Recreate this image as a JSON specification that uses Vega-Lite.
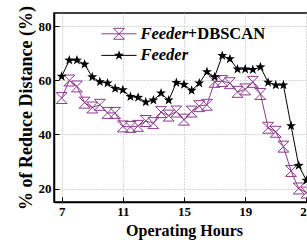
{
  "$schema": "https://vega.github.io/schema/vega-lite/v6.json",
  "autosize": "none",
  "padding": {"left": 54, "top": 13, "right": 0, "bottom": 40},
  "width": 260,
  "height": 189,
  "config": {
    "font": "Liberation Serif",
    "view": {"stroke": "black", "strokeWidth": 1.5},
    "axis": {
      "labelFont": "Liberation Serif", "labelFontWeight": "bold", "labelFontSize": 13, "labelColor": "black",
      "titleFont": "Liberation Serif", "titleFontWeight": "bold", "titleColor": "black",
      "domainColor": "black", "domainWidth": 1.5, "tickColor": "black", "tickWidth": 1,
      "gridColor": "#b0b0b0", "gridDash": [1, 2], "gridWidth": 1,
      "labelOverlap": false
    }
  },
  "datasets": {
    "main": [
      {"hour": 7, "feeder": 61.5, "dbscan": 53.5},
      {"hour": 7.5, "feeder": 67.5, "dbscan": 60},
      {"hour": 8, "feeder": 67.5, "dbscan": 57.8},
      {"hour": 8.5, "feeder": 66, "dbscan": 51.8},
      {"hour": 9, "feeder": 61.3, "dbscan": 50},
      {"hour": 9.5, "feeder": 59.5, "dbscan": 51},
      {"hour": 10, "feeder": 59, "dbscan": 48},
      {"hour": 10.5, "feeder": 57, "dbscan": 48},
      {"hour": 11, "feeder": 56.5, "dbscan": 43},
      {"hour": 11.5, "feeder": 54, "dbscan": 42.8},
      {"hour": 12, "feeder": 53.7, "dbscan": 43.2},
      {"hour": 12.5, "feeder": 52, "dbscan": 45},
      {"hour": 13, "feeder": 52.7, "dbscan": 44.2},
      {"hour": 13.5, "feeder": 55.3, "dbscan": 48.3},
      {"hour": 14, "feeder": 52.7, "dbscan": 47},
      {"hour": 14.5, "feeder": 59.2, "dbscan": 48.5},
      {"hour": 15, "feeder": 58.5, "dbscan": 45.5},
      {"hour": 15.5, "feeder": 56.3, "dbscan": 48.5},
      {"hour": 16, "feeder": 59, "dbscan": 50.5},
      {"hour": 16.5, "feeder": 63.2, "dbscan": 51},
      {"hour": 17, "feeder": 61.3, "dbscan": 59.5},
      {"hour": 17.5, "feeder": 69.2, "dbscan": 59.8},
      {"hour": 18, "feeder": 68, "dbscan": 59},
      {"hour": 18.5, "feeder": 64.2, "dbscan": 55.8},
      {"hour": 19, "feeder": 64.2, "dbscan": 56.7},
      {"hour": 19.5, "feeder": 64, "dbscan": 59.5},
      {"hour": 20, "feeder": 65, "dbscan": 55},
      {"hour": 20.5, "feeder": 59.3, "dbscan": 42.5},
      {"hour": 21, "feeder": 58.3, "dbscan": 41},
      {"hour": 21.5, "feeder": 58.3, "dbscan": 35.5},
      {"hour": 22, "feeder": 43.2, "dbscan": 26.5},
      {"hour": 22.5, "feeder": 28.5, "dbscan": 20},
      {"hour": 23, "feeder": 23, "dbscan": 18.5}
    ],
    "legend": [
      {"series": "dbscan", "label": "Feeder", "suffix": "+DBSCAN"},
      {"series": "feeder", "label": "Feeder", "suffix": ""}
    ]
  },
  "layer": [
    {
      "data": {"name": "main"},
      "mark": {"type": "line", "color": "#8E3A8E", "strokeWidth": 1},
      "encoding": {
        "x": {
          "field": "hour", "type": "quantitative",
          "scale": {"domain": [6.5, 23.5], "nice": false, "zero": false},
          "axis": {
            "title": "Operating Hours", "titleFontSize": 16, "titlePadding": 4,
            "values": [7, 9, 11, 13, 15, 17, 19, 21, 23],
            "tickSize": -5,
            "labelPadding": 8,
            "labelFlush": false,
            "labelOverlap": false
          }
        },
        "y": {
          "field": "dbscan", "type": "quantitative",
          "scale": {"domain": [15, 85], "nice": false, "zero": false},
          "axis": {
            "title": "% of Reduce Distance (%)", "titleFontSize": 18, "titlePadding": 3,
            "values": [20, 30, 40, 50, 60, 70, 80],
            "tickSize": -5,
            "labelPadding": 8,
            "labelOverlap": false
          }
        }
      }
    },
    {
      "data": {"name": "main"},
      "mark": {"type": "point", "shape": "M-1,-1L1,-1L-1,1L1,1Z", "filled": false, "color": "#8E3A8E", "strokeWidth": 1, "size": 120, "opacity": 1},
      "encoding": {"x": {"field": "hour", "type": "quantitative"}, "y": {"field": "dbscan", "type": "quantitative"}}
    },
    {
      "data": {"name": "main"},
      "mark": {"type": "line", "color": "black", "strokeWidth": 1},
      "encoding": {"x": {"field": "hour", "type": "quantitative"}, "y": {"field": "feeder", "type": "quantitative"}}
    },
    {
      "data": {"name": "main"},
      "mark": {"type": "point", "shape": "M0,-1L0.235,-0.324L0.951,-0.309L0.380,0.124L0.588,0.809L0,0.4L-0.588,0.809L-0.380,0.124L-0.951,-0.309L-0.235,-0.324Z", "filled": true, "color": "black", "size": 110, "opacity": 1},
      "encoding": {"x": {"field": "hour", "type": "quantitative"}, "y": {"field": "feeder", "type": "quantitative"}}
    },
    {
      "data": {"name": "legend"},
      "transform": [{"filter": "datum.series == 'dbscan'"}],
      "layer": [
        {"mark": {"type": "rule", "color": "#8E3A8E", "strokeWidth": 1}, "encoding": {"x": {"datum": 9.6}, "x2": {"datum": 11.9}, "y": {"datum": 77.3}}},
        {"mark": {"type": "point", "shape": "M-1,-1L1,-1L-1,1L1,1Z", "filled": false, "color": "#8E3A8E", "strokeWidth": 1, "size": 120, "opacity": 1}, "encoding": {"x": {"datum": 10.75}, "y": {"datum": 77.3}}},
        {"mark": {"type": "text", "font": "Liberation Serif", "fontSize": 16.5, "fontWeight": "bold", "fontStyle": "italic", "align": "left", "baseline": "middle", "color": "black"}, "encoding": {"x": {"datum": 12.15}, "y": {"datum": 77.3}, "text": {"field": "label"}}},
        {"mark": {"type": "text", "font": "Liberation Serif", "fontSize": 16.5, "fontWeight": "bold", "align": "left", "baseline": "middle", "color": "black"}, "encoding": {"x": {"datum": 15.25}, "y": {"datum": 77.3}, "text": {"field": "suffix"}}}
      ]
    },
    {
      "data": {"name": "legend"},
      "transform": [{"filter": "datum.series == 'feeder'"}],
      "layer": [
        {"mark": {"type": "rule", "color": "black", "strokeWidth": 1}, "encoding": {"x": {"datum": 9.6}, "x2": {"datum": 11.9}, "y": {"datum": 69.3}}},
        {"mark": {"type": "point", "shape": "M0,-1L0.235,-0.324L0.951,-0.309L0.380,0.124L0.588,0.809L0,0.4L-0.588,0.809L-0.380,0.124L-0.951,-0.309L-0.235,-0.324Z", "filled": true, "color": "black", "size": 110, "opacity": 1}, "encoding": {"x": {"datum": 10.75}, "y": {"datum": 69.3}}},
        {"mark": {"type": "text", "font": "Liberation Serif", "fontSize": 16.5, "fontWeight": "bold", "fontStyle": "italic", "align": "left", "baseline": "middle", "color": "black"}, "encoding": {"x": {"datum": 12.15}, "y": {"datum": 69.3}, "text": {"field": "label"}}}
      ]
    }
  ]
}
